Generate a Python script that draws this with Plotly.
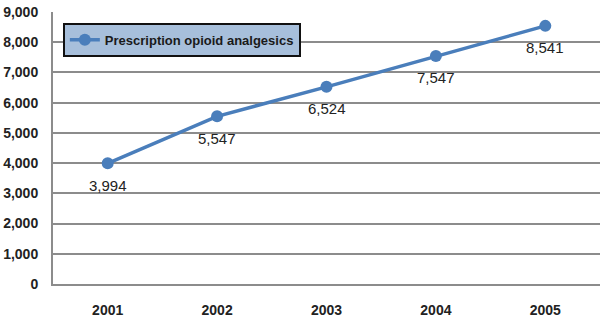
import plotly.graph_objects as go

years = ["2001", "2002", "2003", "2004", "2005"]
values = [3994, 5547, 6524, 7547, 8541]
value_labels = ["3,994", "5,547", "6,524", "7,547", "8,541"]
series_name = "Prescription opioid analgesics"
y_ticks = [0, 1000, 2000, 3000, 4000, 5000, 6000, 7000, 8000, 9000]
y_tick_labels = ["0", "1,000", "2,000", "3,000", "4,000", "5,000", "6,000", "7,000", "8,000", "9,000"]

FONT = "Liberation Sans, Arial, sans-serif"
BLUE = "#4a7ebb"

fig = go.Figure()
fig.add_trace(go.Scatter(
    x=years, y=values, name=series_name,
    mode="lines+markers",
    line=dict(color=BLUE, width=3.5),
    marker=dict(color=BLUE, size=12),
    cliponaxis=False,
))

# category axis: annotation x given as the category's serial index
for i, (v, lab) in enumerate(zip(values, value_labels)):
    fig.add_annotation(
        x=i, y=v, xref="x", yref="y", text=lab, showarrow=False,
        yshift=-22, xanchor="center", yanchor="middle",
        font=dict(family=FONT, size=15, color="#222222"),
    )

fig.update_layout(
    width=600, height=327,
    margin=dict(l=53, r=0, t=12, b=43),
    paper_bgcolor="white", plot_bgcolor="white",
    showlegend=True,
    legend=dict(
        x=0.018, y=0.96, xanchor="left", yanchor="top",
        bgcolor="#a7bfdb", bordercolor="#111111", borderwidth=2,
        font=dict(family=FONT, size=13, color="#1a1a1a", weight="bold"),
        itemwidth=30,
    ),
    xaxis=dict(
        type="category", range=[-0.5, 4.5],
        showgrid=False, showline=True, linecolor="#8c8c8c", linewidth=2,
        ticks="", ticklabelstandoff=12,
        tickfont=dict(family=FONT, size=14, color="#222222", weight="bold"),
    ),
    yaxis=dict(
        range=[0, 9000], tickvals=y_ticks, ticktext=y_tick_labels,
        showgrid=True, gridcolor="#8c8c8c", gridwidth=1.5,
        showline=True, linecolor="#8c8c8c", linewidth=2,
        ticks="", ticklabelstandoff=10,
        zeroline=False,
        tickfont=dict(family=FONT, size=14, color="#222222", weight="bold"),
    ),
)

fig.write_html("out.html")
